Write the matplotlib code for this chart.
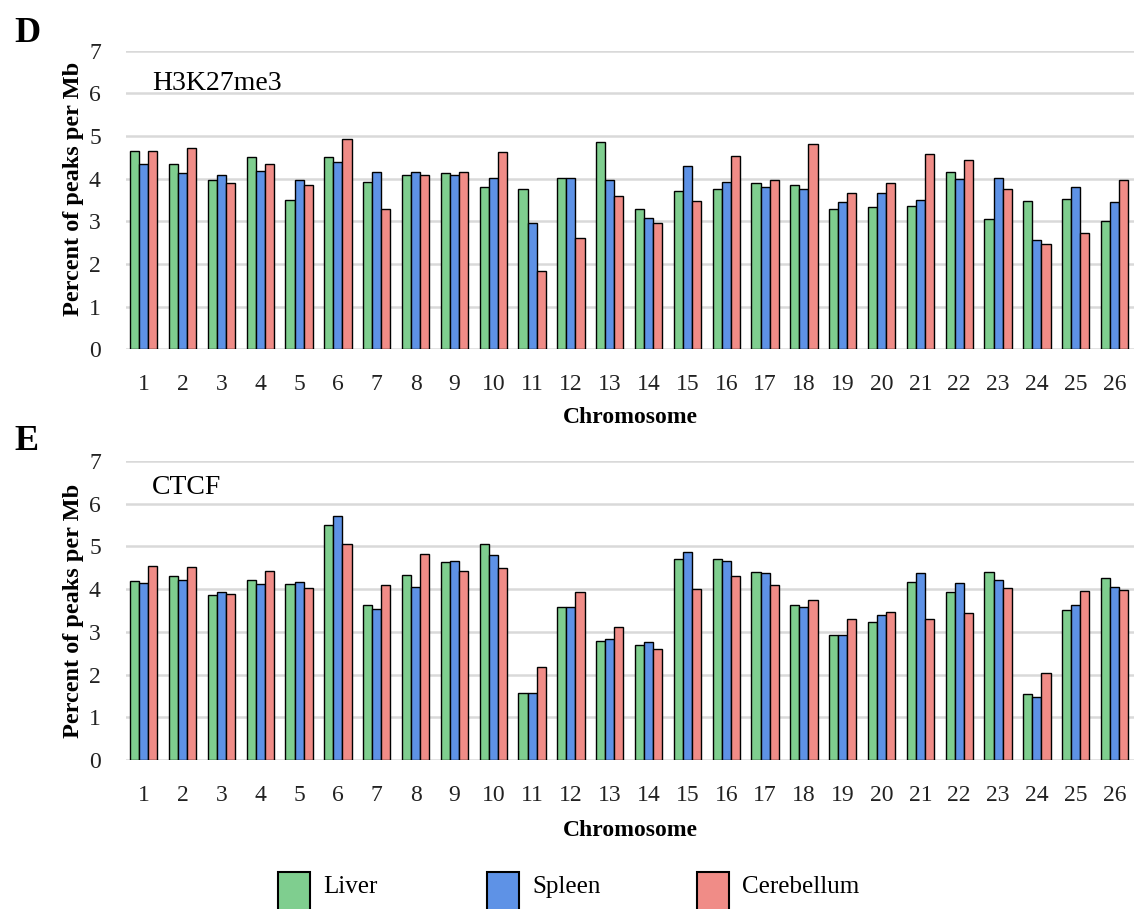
import matplotlib.pyplot as plt
import numpy as np
from matplotlib.patches import Rectangle

plt.rcParams["font.family"] = ["Liberation Serif", "DejaVu Serif"]

chromosomes = [str(i) for i in range(1, 27)]
tissues = ["Liver", "Spleen", "Cerebellum"]
colors = ["#7fce8f", "#5e92e6", "#f08c87"]

# H3K27me3 peaks per Mb, percent
h3k27_liver = [4.66, 4.35, 3.98, 4.52, 3.49, 4.52, 3.93, 4.09, 4.14, 3.80, 3.76, 4.02, 4.85,
               3.29, 3.72, 3.76, 3.89, 3.86, 3.30, 3.33, 3.36, 4.16, 3.05, 3.48, 3.52, 3.02]
h3k27_spleen = [4.34, 4.13, 4.09, 4.18, 3.96, 4.39, 4.16, 4.16, 4.09, 4.02, 2.97, 4.02, 3.97,
                3.08, 4.29, 3.92, 3.81, 3.76, 3.45, 3.66, 3.51, 3.99, 4.02, 2.57, 3.81, 3.46]
h3k27_cerebellum = [4.66, 4.71, 3.90, 4.34, 3.86, 4.92, 3.29, 4.09, 4.16, 4.63, 1.84, 2.60, 3.59,
                    2.97, 3.47, 4.53, 3.98, 4.82, 3.66, 3.89, 4.59, 4.45, 3.76, 2.47, 2.73, 3.96]

# CTCF peaks per Mb, percent
ctcf_liver = [4.20, 4.30, 3.86, 4.21, 4.13, 5.49, 3.63, 4.32, 4.63, 5.05, 1.58, 3.59, 2.78,
              2.70, 4.70, 4.70, 4.39, 3.64, 2.93, 3.23, 4.16, 3.94, 4.40, 1.54, 3.51, 4.25]
ctcf_spleen = [4.15, 4.22, 3.93, 4.11, 4.16, 5.71, 3.54, 4.06, 4.65, 4.79, 1.58, 3.59, 2.83,
               2.77, 4.86, 4.65, 4.37, 3.58, 2.93, 3.39, 4.38, 4.15, 4.22, 1.48, 3.63, 4.05]
ctcf_cerebellum = [4.53, 4.51, 3.89, 4.43, 4.03, 5.05, 4.10, 4.82, 4.43, 4.50, 2.17, 3.93, 3.11,
                   2.61, 4.01, 4.30, 4.10, 3.74, 3.29, 3.47, 3.29, 3.44, 4.03, 2.04, 3.96, 3.98]

panels = [
    ("D", "H3K27me3", [h3k27_liver, h3k27_spleen, h3k27_cerebellum]),
    ("E", "CTCF", [ctcf_liver, ctcf_spleen, ctcf_cerebellum]),
]

fig = plt.figure(figsize=(11.34, 9.09), dpi=100)

# per panel: axes rect, panel letter y, mark label y, ylabel y, xlabel y
layout = [
    ([0.111, 0.6157, 0.889, 0.3285], 0.981, 0.87, 0.5385, -0.193),
    ([0.111, 0.1639, 0.889, 0.3290], 0.532, 0.89, 0.50, -0.2007),
]

x = np.arange(1, len(chromosomes) + 1)
width = 0.235

for (letter, mark, series), (rect, ly, my, yl_y, xl_y) in zip(panels, layout):
    ax = fig.add_axes(rect)
    for k, (vals, color, name) in enumerate(zip(series, colors, tissues)):
        ax.bar(x + (k - 1) * width, vals, width, color=color,
               edgecolor="black", linewidth=1.0, label=name, zorder=3)
    ax.set_xlim(0.54, 26.5)
    ax.set_ylim(0, 7)
    ax.set_yticks(range(8))
    ax.set_xticks(x)
    ax.set_xticklabels(chromosomes)
    ax.grid(axis="y", color="#d9d9d9", linewidth=1.8, zorder=0)
    for s in ax.spines.values():
        s.set_visible(False)
    ax.tick_params(length=0, labelsize=17, colors="#222222")
    ax.tick_params(axis="x", pad=18)
    ax.tick_params(axis="y", pad=18)
    ax.set_xlabel("Chromosome", fontsize=17, fontweight="bold")
    ax.set_ylabel("Percent of peaks per Mb", fontsize=17.5, fontweight="bold")
    ax.xaxis.set_label_coords(0.5, xl_y)
    ax.yaxis.set_label_coords(-0.042, yl_y)
    ax.text(0.026, my, mark, transform=ax.transAxes, fontsize=20,
            va="baseline", ha="left")
    fig.text(0.013, ly, letter, fontsize=26, fontweight="bold", va="top", ha="left")

# legend row along the bottom edge
legend_x = [0.2451, 0.4295, 0.6146]
for lx, color, name in zip(legend_x, colors, tissues):
    fig.add_artist(Rectangle((lx, -0.01), 0.0282, 0.0507, transform=fig.transFigure,
                             facecolor=color, edgecolor="black", linewidth=1.5))
    fig.text(lx + 0.0397, 0.0245, name, fontsize=18, va="center", ha="left")

fig.savefig("out.png", dpi=100)
